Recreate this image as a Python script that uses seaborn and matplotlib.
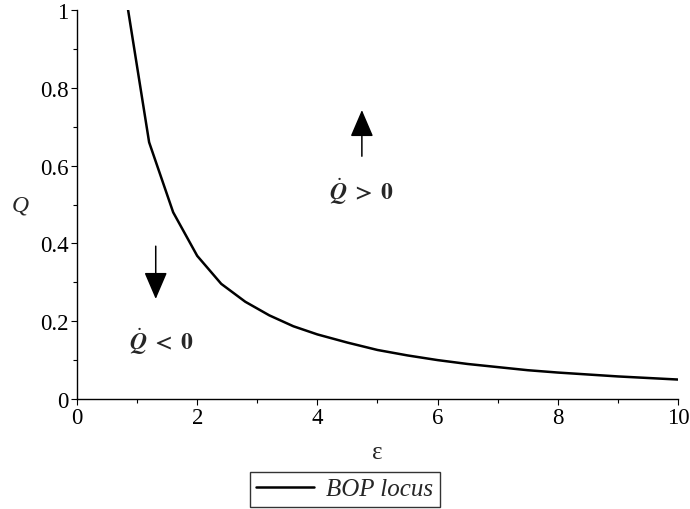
import matplotlib
matplotlib.use("Agg")
import matplotlib.pyplot as plt
from matplotlib.ticker import MultipleLocator
import seaborn as sns
import pandas as pd

# data
epsilon = [0.85, 1.2, 1.6, 2.0, 2.4, 2.8, 3.2, 3.6, 4.0, 4.5, 5.0, 5.5,
           6.0, 6.5, 7.0, 7.5, 8.0, 8.5, 9.0, 9.5, 10.0]
q_values = [1.0, 0.66, 0.48, 0.368, 0.296, 0.25, 0.215, 0.187, 0.166, 0.145,
            0.126, 0.112, 0.100, 0.090, 0.082, 0.074, 0.068, 0.063, 0.058,
            0.054, 0.050]
x_ticks = [0, 2, 4, 6, 8, 10]
y_ticks = [0, 0.2, 0.4, 0.6, 0.8, 1]
y_tick_labels = ["0", "0.2", "0.4", "0.6", "0.8", "1"]
series_name = "BOP locus"

sns.set_theme(style="ticks")
plt.rcParams["font.family"] = ["Liberation Serif", "DejaVu Serif"]
plt.rcParams["mathtext.fontset"] = "stix"

df = pd.DataFrame({"eps": epsilon, "Q": q_values})

fig = plt.figure(figsize=(6.9, 5.1), dpi=100)
ax = fig.add_axes([0.1116, 0.2157, 0.871, 0.7627])

sns.lineplot(data=df, x="eps", y="Q", color="black", linewidth=1.8,
             ax=ax, label=series_name, legend=False)

ax.set_xlim(0, 10)
ax.set_ylim(0, 1)
ax.set_xticks(x_ticks)
ax.set_xticklabels([str(t) for t in x_ticks])
ax.set_yticks(y_ticks)
ax.set_yticklabels(y_tick_labels)
ax.xaxis.set_minor_locator(MultipleLocator(1))
ax.yaxis.set_minor_locator(MultipleLocator(0.1))
ax.tick_params(axis="both", which="major", direction="out", length=4,
               width=0.8, labelsize=16.5, colors="black", pad=2)
ax.tick_params(axis="both", which="minor", direction="out", length=3,
               width=0.8, colors="black")
for s in ["top", "right"]:
    ax.spines[s].set_visible(False)
for s in ["left", "bottom"]:
    ax.spines[s].set_color("black")
    ax.spines[s].set_linewidth(1.0)

ax.set_xlabel("ε", fontsize=18)
ax.xaxis.set_label_coords(0.5, -0.108)
ax.set_ylabel("Q", fontsize=17, fontstyle="italic", rotation=0,
              va="center", ha="center")
ax.yaxis.set_label_coords(-0.095, 0.5)

# direction arrows and labels
arrow_style = dict(arrowstyle="-|>,head_length=1.4,head_width=0.6",
                   color="black", lw=1.1)
ax.annotate("", xy=(4.74, 0.75), xytext=(4.74, 0.617), arrowprops=arrow_style)
ax.annotate("", xy=(1.31, 0.25), xytext=(1.31, 0.40), arrowprops=arrow_style)
ax.text(4.73, 0.535, r"$\dot{\mathbfit{Q}}\;\mathbf{>}\;\mathbf{0}$",
        fontsize=17, ha="center", va="center")
ax.text(1.40, 0.149, r"$\dot{\mathbfit{Q}}\;\mathbf{<}\;\mathbf{0}$",
        fontsize=17, ha="center", va="center")

leg = fig.legend(handles=ax.get_lines()[:1], labels=[series_name],
                 loc="lower center", bbox_to_anchor=(0.5, 0.0),
                 borderaxespad=0.1,
                 frameon=True, fancybox=False, edgecolor="black",
                 prop={"family": "Liberation Serif", "style": "italic",
                       "size": 18},
                 handlelength=2.3, borderpad=0.25, handletextpad=0.5)
leg.get_frame().set_linewidth(1.0)

fig.savefig("out.png", dpi=100)
